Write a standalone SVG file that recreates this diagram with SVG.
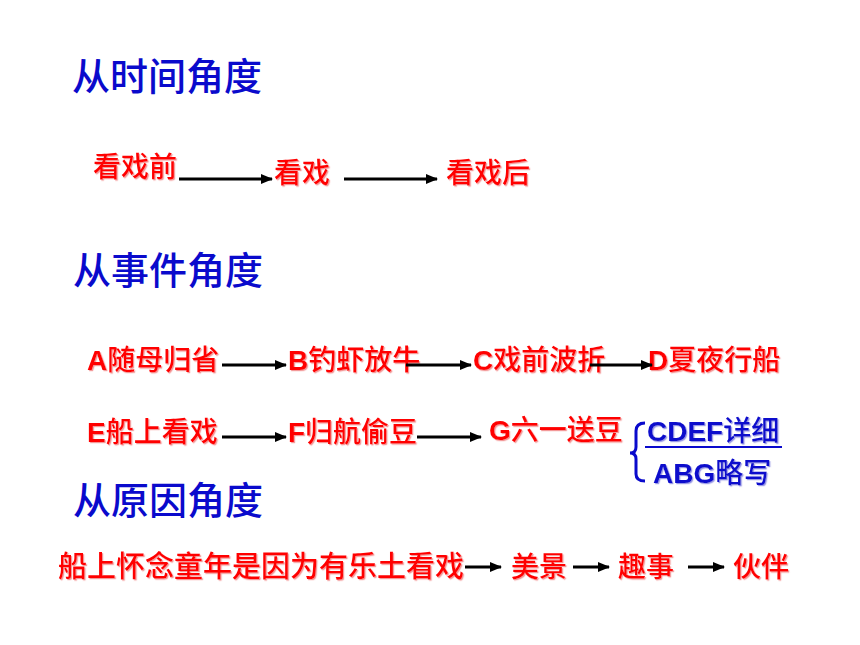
<svg xmlns="http://www.w3.org/2000/svg" width="860" height="645" viewBox="0 0 860 645">
<defs>
<style>
.title{font-family:"Noto Sans CJK SC","Liberation Sans",sans-serif;font-size:38px;font-weight:500;fill:#0A0ACC;}
.red{font-family:"Liberation Sans","Noto Sans CJK SC",sans-serif;font-size:28px;font-weight:500;fill:#FF0000;filter:url(#sh);}
.red29{font-family:"Noto Sans CJK SC",sans-serif;font-size:29px;font-weight:500;fill:#FF0000;filter:url(#sh);}
.blue{font-family:"Liberation Sans","Noto Sans CJK SC",sans-serif;font-size:28px;font-weight:500;fill:#0A0ACC;filter:url(#shb);}
.lat{font-weight:bold;}
.arr{stroke:#000;stroke-width:3;fill:none;marker-end:url(#ah);}
</style>
<filter id="sh" x="-5%" y="-20%" width="110%" height="140%">
<feDropShadow dx="1.2" dy="1.2" stdDeviation="0.6" flood-color="#F08080" flood-opacity="0.8"/>
</filter>
<filter id="shb" x="-5%" y="-20%" width="110%" height="140%">
<feDropShadow dx="1.2" dy="1.2" stdDeviation="0.6" flood-color="#8080E0" flood-opacity="0.8"/>
</filter>
<marker id="ah" markerWidth="12" markerHeight="10" refX="11" refY="5" orient="auto" markerUnits="userSpaceOnUse">
<path d="M0,0 L12,5 L0,10 Z" fill="#000"/>
</marker>
</defs>
<rect width="860" height="645" fill="#FFFFFF"/>

<g id="titles">
<text id="t1" class="title" x="72" y="90">从时间角度</text>
<text id="t2" class="title" x="73" y="284">从事件角度</text>
<text id="t3" class="title" x="73" y="514">从原因角度</text>
</g>

<g id="nodes">
<g id="n-kxq"><text class="red" x="93" y="177">看戏前</text></g>
<g id="n-kx"><text class="red" x="274" y="183">看戏</text></g>
<g id="n-kxh"><text class="red" x="446" y="183">看戏后</text></g>

<g id="n-A"><text class="red" x="87" y="370"><tspan class="lat">A</tspan>随母归省</text></g>
<g id="n-B"><text class="red" x="288" y="370"><tspan class="lat">B</tspan>钓虾放牛</text></g>
<g id="n-C"><text class="red" x="473" y="370"><tspan class="lat">C</tspan>戏前波折</text></g>
<g id="n-D"><text class="red" x="648" y="370"><tspan class="lat">D</tspan>夏夜行船</text></g>

<g id="n-E"><text class="red" x="87" y="442"><tspan class="lat">E</tspan>船上看戏</text></g>
<g id="n-F"><text class="red" x="288" y="442"><tspan class="lat">F</tspan>归航偷豆</text></g>
<g id="n-G"><text class="red" x="489" y="440"><tspan class="lat">G</tspan>六一送豆</text></g>

<g id="n-summary">
<path d="M645,423 Q636,423 636,431 L636,447 Q636,453 630,453 Q636,453 636,459 L636,474 Q636,481 645,481" fill="none" stroke="#0A0ACC" stroke-width="3"/>
<text class="blue" x="647" y="441"><tspan class="lat">CDEF</tspan>详细</text>
<line x1="645" y1="447" x2="782" y2="447" stroke="#0A0ACC" stroke-width="2"/>
<text class="blue" x="653" y="483"><tspan class="lat">ABG</tspan>略写</text>
</g>

<g id="n-reason"><text class="red29" x="58" y="577">船上怀念童年是因为有乐土看戏</text></g>
<g id="n-mj"><text class="red" x="511" y="577">美景</text></g>
<g id="n-qs"><text class="red" x="618" y="577">趣事</text></g>
<g id="n-hb"><text class="red" x="733" y="577">伙伴</text></g>
</g>

<g id="connectors">
<line class="arr" x1="179" y1="179" x2="272" y2="179"/>
<line class="arr" x1="344" y1="179" x2="437" y2="179"/>

<line class="arr" x1="222" y1="365" x2="286" y2="365"/>
<line class="arr" x1="406" y1="365" x2="471" y2="365"/>
<line class="arr" x1="590" y1="365" x2="652" y2="365"/>

<line class="arr" x1="222" y1="437" x2="286" y2="437"/>
<line class="arr" x1="417" y1="437" x2="481" y2="437"/>

<line class="arr" x1="465" y1="567" x2="501" y2="567"/>
<line class="arr" x1="573" y1="567" x2="609" y2="567"/>
<line class="arr" x1="688" y1="567" x2="724" y2="567"/>
</g>
</svg>
